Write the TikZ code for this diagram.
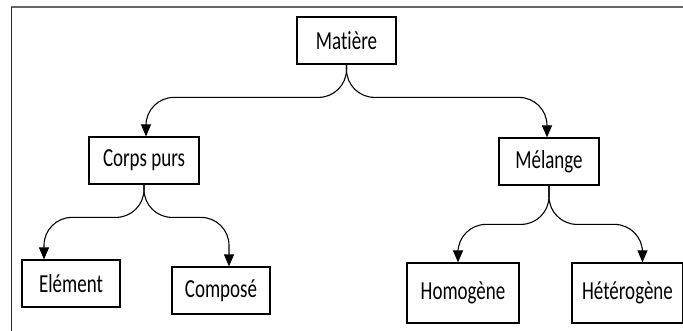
\documentclass[tikz,border=0pt]{standalone}
\usepackage{fontspec}
\setmainfont{Carlito}[FakeStretch=0.73, Ligatures=NoCommon]
\usetikzlibrary{positioning, arrows.meta}
\tikzset{
    >={Triangle[length=12pt, width=10pt]}, % filled arrow heads
    box/.style={draw, line width=1.2pt, minimum height=47pt, inner sep=2pt, font=\fontsize{26}{30}\selectfont}, % the class boxes
    branch/.style={->, line width=1.1pt, rounded corners=28pt}, % the bent connectors
}

\begin{document}
\begin{tikzpicture}[x=1pt, y=1pt, on grid]
    \useasboundingbox (0,0) rectangle (683,331);
    \draw[line width=1.5pt, black!60] (11,324) -- (683,324);
    \draw[line width=1.2pt, black!85] (11.5,324) -- (11.5,0);

    \node[box, minimum width=99pt] (matiere) at (346.5,290.5) {Matière};
    \node[box, minimum width=110pt, below left=120pt and 202.5pt of matiere] (corps) {Corps purs};
    \node[box, minimum width=100pt, below right=121pt and 202.5pt of matiere] (melange) {Mélange};
    \node[box, minimum width=98pt, below left=123pt and 73pt of corps] (element) {Elément};
    \node[box, minimum width=98pt, below right=130pt and 77pt of corps] (compose) {Composé};
    \node[box, minimum width=112pt, minimum height=60pt, below left=131.5pt and 86pt of melange] (homogene) {Homogène};
    \node[box, minimum width=111pt, minimum height=60pt, below right=131.5pt and 78.5pt of melange] (heterogene) {Hétérogène};

    \draw[branch] (matiere.south) |- ([xshift=2pt, yshift=39pt]corps.north) -- ([xshift=2pt]corps.north);
    \draw[branch] (matiere.south) |- ([xshift=-2pt, yshift=40pt]melange.north) -- ([xshift=-2pt]melange.north);
    \draw[branch] (corps.south) |- ([xshift=-27pt, yshift=42pt]element.north) -- ([xshift=-27pt]element.north);
    \draw[branch] (corps.south) |- ([xshift=8pt, yshift=49pt]compose.north) -- ([xshift=8pt]compose.north);
    \draw[branch] (melange.south) |- ([xshift=-5pt, yshift=38pt]homogene.north) -- ([xshift=-5pt]homogene.north);
    \draw[branch] (melange.south) |- ([xshift=15pt, yshift=38pt]heterogene.north) -- ([xshift=15pt]heterogene.north);
\end{tikzpicture}
\end{document}
